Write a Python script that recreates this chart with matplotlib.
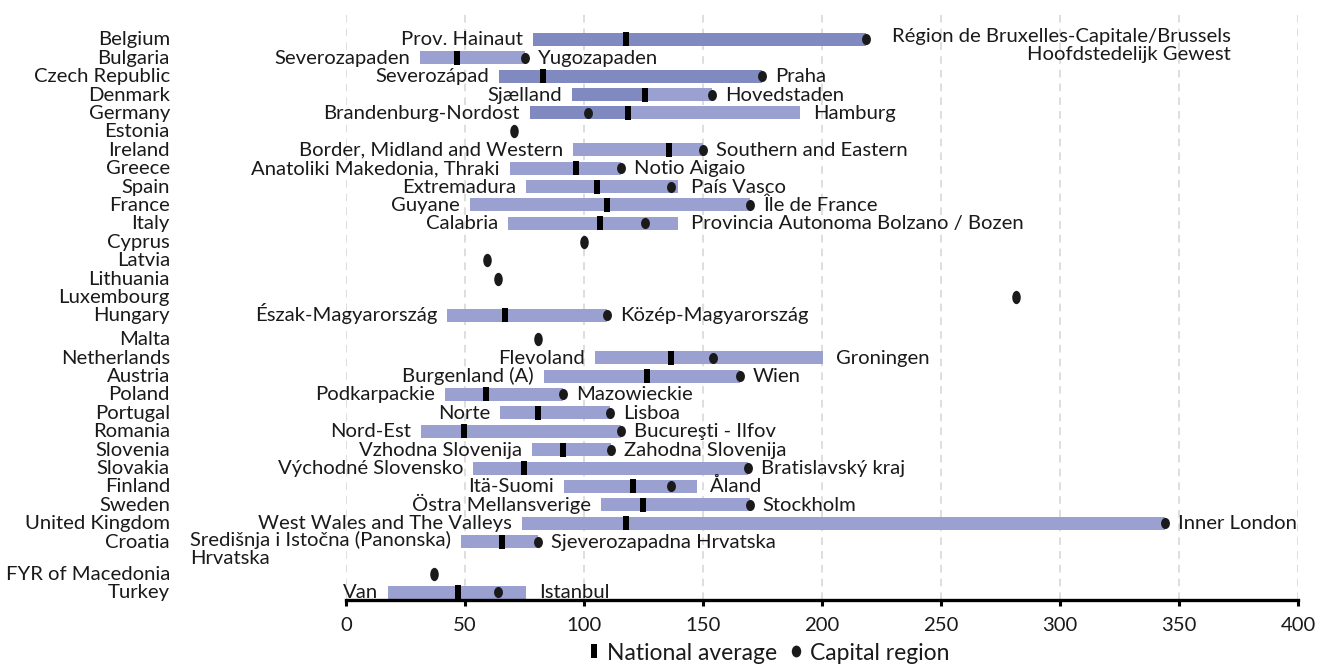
import numpy as np
import matplotlib
matplotlib.use("Agg")
import matplotlib.pyplot as plt
from matplotlib.path import Path
from matplotlib.transforms import Affine2D
from matplotlib.lines import Line2D

plt.rcParams['font.family'] = ['Lato', 'DejaVu Sans']

nan = np.nan

countries = ["Belgium", "Bulgaria", "Czech Republic", "Denmark", "Germany", "Estonia",
             "Ireland", "Greece", "Spain", "France", "Italy", "Cyprus", "Latvia",
             "Lithuania", "Luxembourg", "Hungary", "Malta", "Netherlands", "Austria",
             "Poland", "Portugal", "Romania", "Slovenia", "Slovakia", "Finland",
             "Sweden", "United Kingdom", "Croatia", "FYR of Macedonia", "Turkey"]

low_regions = ["Prov. Hainaut", "Severozapaden", "Severozápad", "Sjælland",
               "Brandenburg-Nordost", "", "Border, Midland and Western",
               "Anatoliki Makedonia, Thraki", "Extremadura", "Guyane", "Calabria",
               "", "", "", "", "Észak-Magyarország", "", "Flevoland", "Burgenland (A)",
               "Podkarpackie", "Norte", "Nord-Est", "Vzhodna Slovenija",
               "Východné Slovensko", "Itä-Suomi", "Östra Mellansverige",
               "West Wales and The Valleys", "Središnja i Istočna (Panonska)\nHrvatska",
               "", "Van"]

high_regions = ["Région de Bruxelles-Capitale/Brussels\nHoofdstedelijk Gewest",
                "Yugozapaden", "Praha", "Hovedstaden", "Hamburg", "",
                "Southern and Eastern", "Notio Aigaio", "País Vasco", "Île de France",
                "Provincia Autonoma Bolzano / Bozen", "", "", "", "",
                "Közép-Magyarország", "", "Groningen", "Wien", "Mazowieckie", "Lisboa",
                "Bucureşti - Ilfov", "Zahodna Slovenija", "Bratislavský kraj", "Åland",
                "Stockholm", "Inner London", "Sjeverozapadna Hrvatska", "", "Istanbul"]

low_vals = [78.6, 31.1, 64.3, 94.8, 77.3, nan, 95.4, 68.9, 75.6, 52.1, 68.2, nan, nan,
            nan, nan, 42.6, nan, 104.6, 83.2, 41.6, 64.7, 31.5, 78.3, 53.4, 91.7, 107.1,
            74.1, 48.3, nan, 17.8]

nat_avg = [117.6, 46.5, 82.6, 125.6, 118.5, nan, 135.7, 96.5, 105.4, 109.7, 106.7, nan,
           nan, nan, nan, 66.8, nan, 136.6, 126.3, 58.8, 80.5, 49.6, 91.2, 74.8, 120.5,
           124.8, 117.6, 65.5, nan, 47.1]

capital = [218.4, 75.2, 174.7, 153.9, 101.5, 70.7, 149.9, 115.4, 136.5, 169.7, 125.6,
           99.9, 59.2, 63.7, 281.5, 109.7, 80.8, 154.3, 165.5, 91.3, 110.9, 115.5, 111.3,
           169.0, 136.6, 169.6, 344.1, 80.8, 37.1, 63.7]

high_vals = [218.4, 75.2, 174.7, 153.9, 190.8, nan, 149.9, 115.4, 139.6, 169.7, 139.4,
             nan, nan, nan, nan, 109.7, nan, 200.3, 165.5, 91.3, 110.9, 115.5, 111.3,
             169.0, 147.3, 169.6, 344.1, 80.8, nan, 75.6]

# darker shaded part of the bar (from the low value up to this value)
dark_to = [218.4, nan, 174.7, 125.6, 118.5] + [nan] * 25

x_ticks = [0, 50, 100, 150, 200, 250, 300, 350, 400]

# layout: vertical gap before each row (in row units)
row_gap = [0] + [1.0] * 15 + [1.3] + [1.0] * 11 + [1.74, 1.0]
y = np.cumsum(row_gap)

light = "#9aa0d0"
dark = "#8189c1"
txt = "#1a1a1a"
fs = 14.6

fig = plt.figure(figsize=(13.25, 6.64), dpi=100)
ax = fig.add_axes([346 / 1325, 64 / 664, 952 / 1325, 588 / 664])

unit = 18.4
top_units = (39.3 - 12) / unit
ax.set_ylim(588 / unit - top_units, -top_units)
ax.set_xlim(0, 400)

low = np.array(low_vals)
high = np.array(high_vals)
has_bar = ~np.isnan(low)
bh = 13 / unit

ax.barh(y[has_bar], (high - low)[has_bar], left=low[has_bar], height=bh,
        color=light, zorder=2, linewidth=0)
dk = np.array(dark_to)
has_dark = ~np.isnan(dk)
ax.barh(y[has_dark], (dk - low)[has_dark], left=low[has_dark], height=bh,
        color=dark, zorder=2.1, linewidth=0)

rect = Path([(-0.25, -0.5), (0.25, -0.5), (0.25, 0.5), (-0.25, 0.5), (-0.25, -0.5)],
            [Path.MOVETO, Path.LINETO, Path.LINETO, Path.LINETO, Path.CLOSEPOLY])
ell = Path.unit_circle().transformed(Affine2D().scale(0.8, 1.0))
ell_tall = Path.unit_circle().transformed(Affine2D().scale(0.64, 1.0))

ax.plot(np.array(nat_avg)[has_bar], y[has_bar], linestyle='none', marker=rect,
        markersize=9.6, color='black', markeredgewidth=0, zorder=3)
cap = np.array(capital)
ax.plot(cap[has_bar], y[has_bar], linestyle='none', marker=ell, markersize=8.0,
        color=txt, markeredgewidth=0, zorder=4)
ax.plot(cap[~has_bar], y[~has_bar], linestyle='none', marker=ell_tall, markersize=9.6,
        color=txt, markeredgewidth=0, zorder=4)

base_off = -6  # pixels: baseline sits slightly below bar centre
for i in range(len(countries)):
    ax.annotate(countries[i], (-0.1849, y[i]), xycoords=ax.get_yaxis_transform(),
                xytext=(0, base_off), textcoords='offset pixels',
                ha='right', va='baseline', fontsize=fs, color=txt)
    if not has_bar[i]:
        continue
    lr, hr = low_regions[i], high_regions[i]
    if "\n" in lr:
        ax.annotate(lr, (low[i], y[i]), xytext=(-10, 11), textcoords='offset pixels',
                    ha='right', va='top', multialignment='left', fontsize=fs,
                    color=txt, linespacing=1.1)
    else:
        ax.annotate(lr, (low[i], y[i]), xytext=(-10, base_off), textcoords='offset pixels',
                    ha='right', va='baseline', fontsize=fs, color=txt)
    if "\n" in hr:
        ax.annotate(hr, (high[i], y[i]), xytext=(26, 11), textcoords='offset pixels',
                    ha='left', va='top', multialignment='right', fontsize=fs,
                    color=txt, linespacing=1.05)
    else:
        ax.annotate(hr, (high[i], y[i]), xytext=(13, base_off), textcoords='offset pixels',
                    ha='left', va='baseline', fontsize=fs, color=txt)

ax.set_xticks(x_ticks)
ax.set_xticklabels([str(v) for v in x_ticks], fontsize=fs, color=txt)
ax.set_yticks([])
for s in ['left', 'top', 'right']:
    ax.spines[s].set_visible(False)
ax.spines['bottom'].set_linewidth(2.4)
ax.spines['bottom'].set_color('black')
ax.tick_params(axis='x', direction='out', length=4.5, width=2.2, color='black', pad=7.5)
ax.grid(axis='x', color='#d4d4d4', linestyle=(0, (5, 4)), linewidth=1.1, zorder=0)
ax.set_axisbelow(True)

handles = [Line2D([], [], linestyle='none', marker=rect, markersize=10, color='black',
                  markeredgewidth=0),
           Line2D([], [], linestyle='none', marker=ell, markersize=8.5, color=txt,
                  markeredgewidth=0)]
fig.legend(handles, ["National average", "Capital region"], loc='center',
           bbox_to_anchor=(769 / 1325, 11 / 664), ncol=2, frameon=False,
           fontsize=16.5, handlelength=0.45, handletextpad=0.35, columnspacing=0.6,
           labelcolor=txt, borderpad=0, borderaxespad=0)

fig.savefig("out.png", dpi=100)
